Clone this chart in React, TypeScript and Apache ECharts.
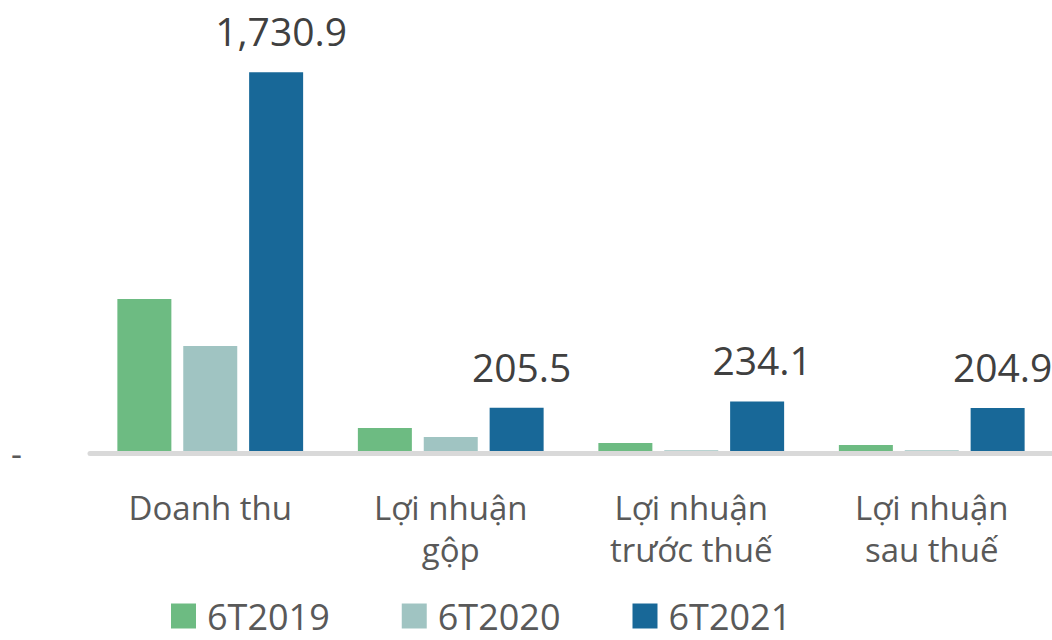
import React, { useEffect, useRef } from "react";
import * as echarts from "echarts";

const categories = ["Doanh thu", "Lợi nhuận\ngộp", "Lợi nhuận\ntrước thuế", "Lợi nhuận\nsau thuế"];
const seriesNames = ["6T2019", "6T2020", "6T2021"];
const values2019 = [700, 114, 45, 36];
const values2020 = [486, 73, 13, 12];
const values2021 = [1730.9, 205.5, 234.1, 204.9];
const colors = ["#6DBB82", "#A0C4C2", "#186898"];

const numFont = "'Open Sans', sans-serif";
const catFont = "'Open Sans', sans-serif";

export default function App() {
  const ref = useRef<HTMLDivElement>(null);
  useEffect(() => {
    const chart = echarts.init(ref.current!, null, { renderer: "svg" });
    const data = [values2019, values2020, values2021];
    chart.setOption({
      animation: false,
      grid: { left: 90, top: 13, bottom: 187, width: 964 },
      legend: {
        left: 166,
        top: 593,
        itemWidth: 25,
        itemHeight: 25,
        itemGap: 72,
        icon: "rect",
        textStyle: { fontFamily: numFont, fontSize: 36, lineHeight: 36, color: "#595959", padding: [0, 0, 0, 6] },
        data: seriesNames,
      },
      xAxis: {
        type: "category",
        data: categories,
        axisLine: { show: true, lineStyle: { color: "#D9D9D9", width: 5 } },
        axisTick: { show: false },
        axisLabel: {
          interval: 0,
          margin: 33,
          fontFamily: catFont,
          fontSize: 33,
          lineHeight: 42,
          color: "#595959",
        },
        z: 3,
      },
      yAxis: {
        type: "value",
        min: 0,
        max: 2000,
        interval: 500,
        splitLine: { show: false },
        axisLine: { show: false },
        axisTick: { show: false },
        axisLabel: {
          margin: 68,
          fontFamily: numFont,
          fontSize: 34,
          color: "#595959",
          formatter: (v: number) => (v === 0 ? "-" : ""),
        },
      },
      series: seriesNames.map((name, i) => ({
        name,
        type: "bar",
        data: data[i],
        barWidth: 54,
        barGap: "22%",
        itemStyle: { color: colors[i] },
        label:
          i === 2
            ? {
                show: true,
                position: "top",
                distance: 22,
                offset: [5, 0],
                fontFamily: numFont,
                fontSize: 39,
                color: "#404040",
                formatter: (p: any) =>
                  Number(p.value).toLocaleString("en-US", { minimumFractionDigits: 1, maximumFractionDigits: 1 }),
              }
            : { show: false },
      })),
    });
    return () => chart.dispose();
  }, []);
  return <div ref={ref} style={{ width: 1052, height: 640, position: "absolute", left: 0, top: 0 }} />;
}
